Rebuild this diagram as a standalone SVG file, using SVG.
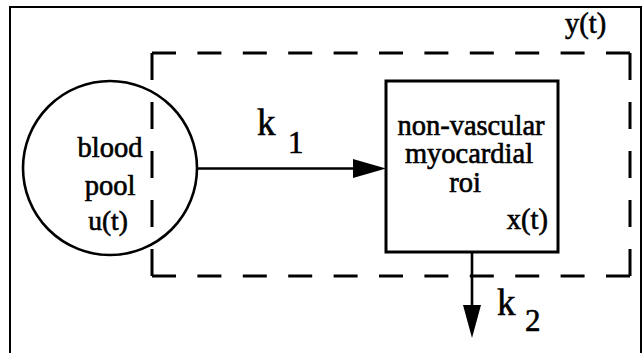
<svg xmlns="http://www.w3.org/2000/svg" width="644" height="353" viewBox="0 0 644 353">
<style>
.t{font-family:"Liberation Serif","Times New Roman",serif;fill:#000;stroke:#000;stroke-width:0.6}
.n{font-size:28.5px}
.k{font-size:37px}
.s{font-size:31px}
.dash{stroke:#000;stroke-width:3;fill:none;stroke-dasharray:24 21.4}
.dashv{stroke:#000;stroke-width:3;fill:none;stroke-dasharray:27 22}
.ln{stroke:#000;stroke-width:2.6;fill:none}
</style>
<rect width="644" height="353" fill="#fff"/>
<path d="M10,353 V7 H641 V353" fill="none" stroke="#000" stroke-width="2"/>
<g id="system-boundary">
<line class="dash" x1="152" y1="53" x2="630" y2="53"/>
<line class="dash" x1="152" y1="276" x2="630" y2="276"/>
<line class="dashv" x1="152" y1="53" x2="152" y2="276"/>
<line class="dashv" x1="630" y1="53" x2="630" y2="276"/>
<text class="t n" x="565" y="33">y(t)</text>
</g>
<g id="blood-pool">
<circle cx="110" cy="168" r="87" class="ln"/>
<text class="t n" x="110" y="157" text-anchor="middle">blood</text>
<text class="t n" x="110" y="195" text-anchor="middle">pool</text>
<text class="t" font-size="27.5" x="108" y="230" text-anchor="middle">u(t)</text>
</g>
<g id="myocardial-roi">
<rect x="386" y="81" width="172" height="171" stroke="#000" stroke-width="3" fill="none"/>
<text class="t n" x="471" y="135" text-anchor="middle">non-vascular</text>
<text class="t n" x="469" y="163" text-anchor="middle">myocardial</text>
<text class="t n" x="465" y="192" text-anchor="middle">roi</text>
<text class="t n" x="548" y="229" text-anchor="end">x(t)</text>
</g>
<g id="connectors">
<line class="ln" x1="197" y1="168.5" x2="355" y2="168.5"/>
<polygon points="353,159 386,168.5 353,178" fill="#000"/>
<text class="t k" x="257" y="135">k</text>
<text class="t s" x="288" y="153">1</text>
<line class="ln" x1="472" y1="252" x2="472" y2="307"/>
<polygon points="463,305 481,305 472,338" fill="#000"/>
<text class="t k" x="497" y="315">k</text>
<text class="t s" x="525" y="331">2</text>
</g>
</svg>
